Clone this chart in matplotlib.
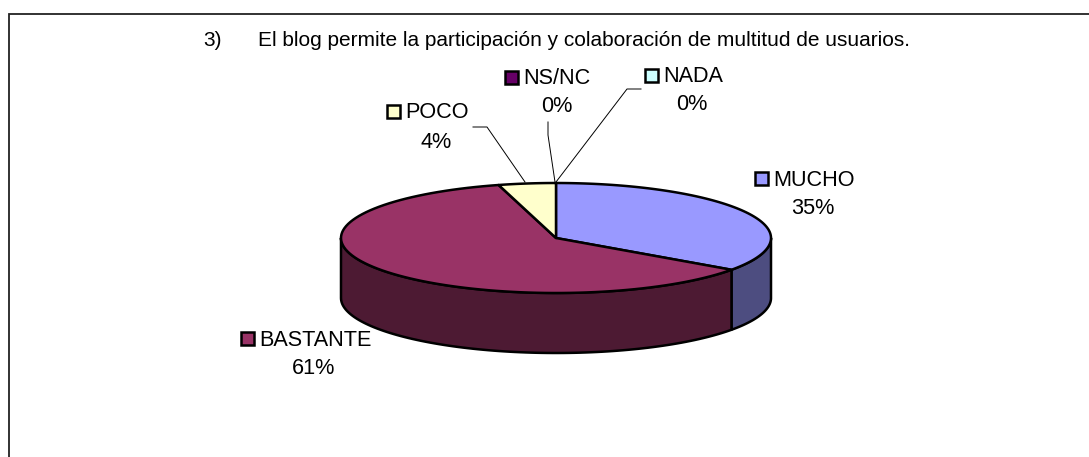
import matplotlib
matplotlib.use("Agg")
import matplotlib.pyplot as plt
import numpy as np
from matplotlib.patches import Polygon, Rectangle

plt.rcParams["font.family"] = ["Liberation Sans", "DejaVu Sans"]

# values
categories = ["MUCHO", "BASTANTE", "POCO", "NS/NC", "NADA"]
shares = [34.8, 60.9, 4.3, 0.0, 0.0]
percent_labels = ["35%", "61%", "4%", "0%", "0%"]
top_colors = ["#9999ff", "#993366", "#ffffcc", "#660066", "#ccffff"]
side_colors = ["#4d4d80", "#4d1a33", "#808066", "#330033", "#668080"]
title_num = "3)"
title_text = "El blog permite la participación y colaboración de multitud de usuarios."

W, H = 1089, 457
CX, CY, RX, RY, DEPTH = 556, 238, 215, 55, 60
LW = 1.8
FS = 15.6


def ellipse_points(a0, a1, drop=0.0, n=100):
    # angles in degrees, clockwise from twelve o'clock
    t = np.radians(np.linspace(a0, a1, n))
    return np.column_stack([CX + RX * np.sin(t), CY - RY * np.cos(t) + drop])


fig = plt.figure(figsize=(W / 100, H / 100), dpi=100)
ax = fig.add_axes([0, 0, 1, 1])
ax.set_xlim(0, W)
ax.set_ylim(H, 0)
ax.axis("off")

# page frame: only left and top show in the crop
ax.plot([8.5, 8.5, W + 5], [H + 5, 14, 14], color="#222222", lw=1.3, solid_joinstyle="miter")

edges = np.concatenate([[0], np.cumsum(shares)]) * 3.6

# side walls first, only the part that faces the viewer (90..270 deg)
for i in range(len(shares)):
    a0, a1 = max(edges[i], 90), min(edges[i + 1], 270)
    if a1 <= a0:
        continue
    pts = np.vstack([ellipse_points(a0, a1), ellipse_points(a1, a0, DEPTH)])
    ax.add_patch(Polygon(pts, closed=True, facecolor=side_colors[i], edgecolor="black", lw=LW, joinstyle="round"))

# top face
for i in range(len(shares)):
    if shares[i] == 0:
        continue
    pts = np.vstack([[CX, CY], ellipse_points(edges[i], edges[i + 1])])
    ax.add_patch(Polygon(pts, closed=True, facecolor=top_colors[i], edgecolor="black", lw=LW, joinstyle="round"))

# label positions: name left, name y, percent centre x, percent y
label_pos = {
    "MUCHO": (773, 180, 813, 209),
    "BASTANTE": (259, 340, 314, 369),
    "POCO": (405, 113, 436, 142),
    "NS/NC": (523, 79, 557, 107),
    "NADA": (663, 77, 692, 104),
}
for name, pct, col in zip(categories, percent_labels, top_colors):
    tx, ty, px, py = label_pos[name]
    ax.text(tx, ty, name, fontsize=FS, ha="left", va="center", color="black")
    ax.text(px, py, pct, fontsize=FS, ha="center", va="center", color="black")
    ax.add_patch(Rectangle((tx - 18, ty - 8), 13, 13, facecolor=col, edgecolor="black", lw=1.8))

# leader lines
ax.plot([473, 487, 525], [127, 127, 182], color="black", lw=0.7)
ax.plot([548, 548, 555], [122, 135, 182], color="black", lw=0.7)
ax.plot([641, 627, 556], [89, 89, 182], color="black", lw=0.7)

ax.text(203, 41, title_num, fontsize=15.0, ha="left", va="center")
ax.text(258, 41, title_text, fontsize=15.0, ha="left", va="center")

fig.savefig("out.png", dpi=100)
